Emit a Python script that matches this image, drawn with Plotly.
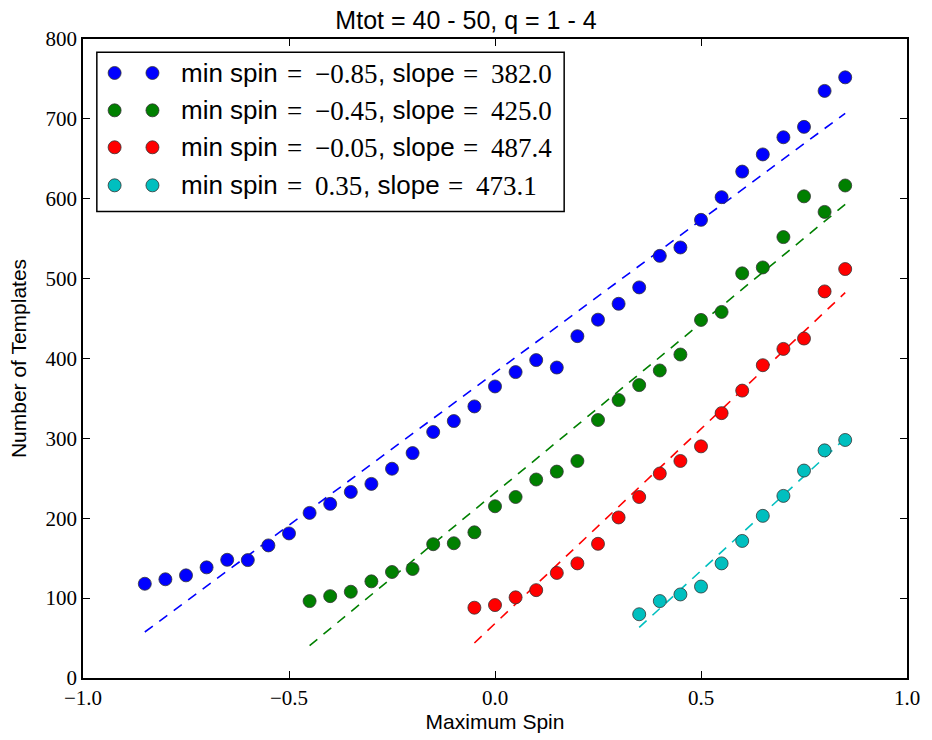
import plotly.graph_objects as go

# ---------------- data ----------------
blue_x = [-0.85, -0.80, -0.75, -0.70, -0.65, -0.60, -0.55, -0.50, -0.45, -0.40,
          -0.35, -0.30, -0.25, -0.20, -0.15, -0.10, -0.05, 0.00, 0.05, 0.10,
          0.15, 0.20, 0.25, 0.30, 0.35, 0.40, 0.45, 0.50, 0.55, 0.60,
          0.65, 0.70, 0.75, 0.80, 0.85]
blue_y = [118, 123.6, 128.5, 138.5, 148, 147.6, 166, 181, 206.7, 218,
          233, 243, 262, 281.6, 308, 321.7, 340, 365, 383, 398,
          388.7, 428, 448.6, 468.5, 489, 528.5, 539, 573.6, 602, 634,
          655.5, 677, 690, 735, 752]

green_x = [-0.45, -0.40, -0.35, -0.30, -0.25, -0.20, -0.15, -0.10, -0.05, 0.00,
           0.05, 0.10, 0.15, 0.20, 0.25, 0.30, 0.35, 0.40, 0.45, 0.50,
           0.55, 0.60, 0.65, 0.70, 0.75, 0.80, 0.85]
green_y = [96.3, 102.5, 108, 121, 132.7, 136.5, 167.5, 168.7, 182.4, 215,
           226.6, 248.5, 258.4, 271.7, 323, 348, 366.7, 385, 405, 448.3,
           458.3, 506.6, 514, 552, 603, 583.5, 616.6]

red_x = [-0.05, 0.00, 0.05, 0.10, 0.15, 0.20, 0.25, 0.30, 0.35, 0.40,
         0.45, 0.50, 0.55, 0.60, 0.65, 0.70, 0.75, 0.80, 0.85]
red_y = [88, 91.3, 101, 110, 131.5, 143.5, 168, 201, 226.6, 256,
         271.7, 290, 331.6, 359.8, 391.6, 412, 425, 484, 512]

cyan_x = [0.35, 0.40, 0.45, 0.50, 0.55, 0.60, 0.65, 0.70, 0.75, 0.80, 0.85]
cyan_y = [79.8, 96.3, 104.6, 114.5, 143.5, 171.6, 203, 228, 259.7, 285, 298]

min_spins = ["\u22120.85", "\u22120.45", "\u22120.05", "0.35"]
slopes = [382.0, 425.0, 487.4, 473.1]
intercepts = [382.3, 231.75, 68.2, -102.3]

x_tickvals = [-1.0, -0.5, 0.0, 0.5, 1.0]
x_ticktext = ["\u22121.0", "\u22120.5", "0.0", "0.5", "1.0"]
y_tickvals = [0, 100, 200, 300, 400, 500, 600, 700, 800]

colors = ["#0000ff", "#008000", "#ff0000", "#00bfbf"]

series = [(blue_x, blue_y), (green_x, green_y), (red_x, red_y), (cyan_x, cyan_y)]

SANS = "Liberation Sans, Arial, sans-serif"
SERIF = "Liberation Serif, Times New Roman, serif"

fig = go.Figure()

# fit lines
for (xs, ys), s, b, c in zip(series, slopes, intercepts, colors):
    fx = [xs[0], xs[-1]]
    fy = [s * v + b for v in fx]
    fig.add_trace(go.Scatter(x=fx, y=fy, mode="lines",
                             line=dict(color=c, width=1.6, dash="10px,8px"),
                             showlegend=False, hoverinfo="skip"))

# points
for (xs, ys), c in zip(series, colors):
    fig.add_trace(go.Scatter(x=xs, y=ys, mode="markers",
                             marker=dict(color=c, size=13,
                                         line=dict(color="#333333", width=0.8)),
                             showlegend=False))

# ---------------- custom legend (two markers per entry, like matplotlib) -------
PL, PR, PT, PB = 83, 917, 39, 684
W, H = PR - PL, PB - PT


def px(xp):
    return (xp - PL) / W


def py(yp):
    return (PB - yp) / H


# approximate advance widths (em) for Liberation Sans / Liberation Serif
SANS_W = {"m": .833, "i": .222, "n": .556, " ": .278, "s": .5, "p": .556,
          ",": .278, "l": .222, "o": .556, "e": .556}
SERIF_W = {"=": .564, "\u2212": .564, ".": .25}


def width(txt, table, size):
    return sum(table.get(ch, .5) for ch in txt) * size


FS = 26   # legend sans font size
FM = 27   # legend serif (math) font size

shapes = [dict(type="rect", xref="paper", yref="paper",
               x0=px(97), x1=px(570), y0=py(213), y1=py(52.5),
               line=dict(color="black", width=1.5), fillcolor="white", layer="above")]
annotations = []
row_y = [73.3, 111, 148.3, 186.7]
r = 6.5


def add_text(x, y, txt, fam, size):
    annotations.append(dict(xref="paper", yref="paper", x=px(x), y=py(y),
                            xanchor="left", yanchor="middle", showarrow=False,
                            text=txt, borderpad=0,
                            font=dict(family=fam, size=size, color="black")))


for ry, c, ms, sl in zip(row_y, colors, min_spins, slopes):
    for mx in (115, 153.3):
        shapes.append(dict(type="circle", xref="paper", yref="paper",
                           xsizemode="pixel", ysizemode="pixel",
                           xanchor=px(mx), yanchor=py(ry),
                           x0=-r, x1=r, y0=-r, y1=r,
                           fillcolor=c, line=dict(color="#333333", width=0.8),
                           layer="above"))
    x = 181.5
    for seg, fam in (("min spin", "sans"), ("=", "serif"), (ms, "serif"),
                     (", slope", "sans"), ("=", "serif"), ("%.1f" % sl, "serif")):
        if fam == "sans":
            add_text(x, ry, seg, SANS, FS)
            x += width(seg, SANS_W, FS)
            x += 10          # gap before "="
        else:
            add_text(x, ry + 1, seg, SERIF, FM)
            x += width(seg, SERIF_W, FM)
            x += 13 if seg == "=" else 1.5

fig.update_layout(
    width=932, height=740,
    margin=dict(l=PL, r=932 - PR, t=PT, b=740 - PB),
    paper_bgcolor="white", plot_bgcolor="white",
    title=dict(text="Mtot = 40 - 50, q = 1 - 4", x=0.5, xanchor="center",
               y=1 - 20 / 740, yanchor="middle",
               font=dict(family=SANS, size=25, color="black")),
    shapes=shapes, annotations=annotations,
    showlegend=False,
)

axis_common = dict(showline=True, linecolor="black", linewidth=1.5, mirror="ticks",
                   ticks="inside", ticklen=7, tickwidth=1, tickcolor="black",
                   showgrid=False, zeroline=False,
                   tickfont=dict(family=SERIF, size=21, color="black"))

fig.update_xaxes(range=[-1.0, 1.0], tickvals=x_tickvals, ticktext=x_ticktext,
                 title=dict(text="Maximum Spin", standoff=3,
                            font=dict(family=SANS, size=21, color="black")),
                 **axis_common)
fig.update_yaxes(range=[0, 800], tickvals=y_tickvals,
                 title=dict(text="Number of Templates", standoff=13,
                            font=dict(family=SANS, size=21, color="black")),
                 **axis_common)

fig.write_html("out.html")
